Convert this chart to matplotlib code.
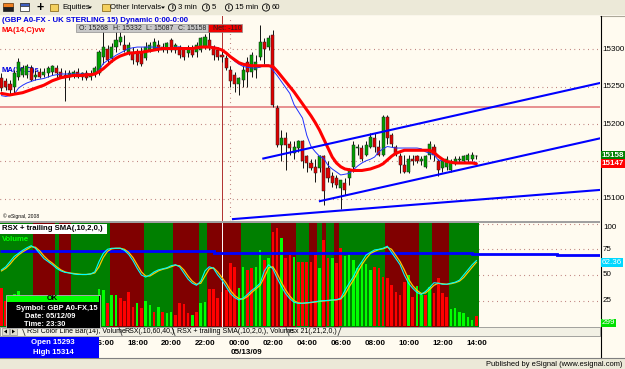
import numpy as np
import pandas as pd
import matplotlib
matplotlib.use("Agg")
import matplotlib.pyplot as plt
from matplotlib.patches import Rectangle, Circle, Polygon
from matplotlib.transforms import blended_transform_factory as blend

plt.rcParams["font.family"] = ["Liberation Sans", "DejaVu Sans"]

# ===============================================================
# DATA  -- GBP A0-FX, 15 min bars, 05/12/09 10:30 .. 05/13/09 14:30
# ===============================================================
opens = [15261, 15257, 15254, 15250, 15263, 15266, 15266, 15275, 15263, 15270,
         15266, 15268, 15270, 15275, 15270, 15266, 15263, 15266, 15270, 15263,
         15268, 15263, 15266, 15268, 15290, 15301, 15288, 15303, 15310, 15306,
         15297, 15297, 15297, 15297, 15288, 15299, 15301, 15306, 15303, 15299,
         15312, 15299, 15303, 15301, 15295, 15301, 15297, 15299, 15303, 15312,
         15303, 15299, 15292, 15288, 15272, 15266, 15254, 15259, 15283, 15270,
         15272, 15290, 15310, 15303, 15319, 15221, 15172, 15181, 15174, 15161,
         15168, 15177, 15157, 15148, 15143, 15141, 15157, 15141, 15130, 15128,
         15114, 15121, 15128, 15143, 15168, 15168, 15159, 15170, 15181, 15170,
         15159, 15210, 15185, 15170, 15157, 15145, 15136, 15154, 15157, 15150,
         15143, 15159, 15170, 15150, 15141, 15143, 15139, 15148, 15152, 15150,
         15152, 15154, 15157]
highs = [15268, 15261, 15259, 15272, 15288, 15279, 15281, 15279, 15272, 15275,
         15275, 15277, 15279, 15279, 15275, 15272, 15272, 15272, 15275, 15270,
         15272, 15272, 15277, 15299, 15326, 15306, 15308, 15326, 15326, 15319,
         15310, 15303, 15301, 15303, 15310, 15310, 15315, 15312, 15308, 15310,
         15315, 15308, 15306, 15303, 15306, 15306, 15310, 15317, 15321, 15324,
         15306, 15303, 15299, 15292, 15277, 15270, 15263, 15279, 15290, 15297,
         15292, 15332, 15315, 15319, 15326, 15226, 15192, 15190, 15177, 15177,
         15179, 15179, 15159, 15154, 15154, 15159, 15159, 15150, 15136, 15132,
         15125, 15128, 15141, 15177, 15174, 15172, 15177, 15188, 15188, 15179,
         15212, 15212, 15188, 15172, 15161, 15159, 15159, 15159, 15159, 15157,
         15159, 15177, 15174, 15154, 15154, 15157, 15154, 15157, 15157, 15159,
         15161, 15163, 15159]
lows = [15244, 15246, 15239, 15241, 15259, 15263, 15261, 15257, 15259, 15261,
        15263, 15263, 15266, 15261, 15261, 15231, 15259, 15261, 15261, 15259,
        15259, 15259, 15263, 15266, 15281, 15281, 15283, 15297, 15306, 15297,
        15292, 15281, 15279, 15277, 15286, 15297, 15299, 15297, 15297, 15295,
        15297, 15295, 15288, 15286, 15290, 15290, 15290, 15297, 15301, 15299,
        15286, 15286, 15283, 15272, 15250, 15243, 15239, 15250, 15250, 15263,
        15261, 15286, 15281, 15299, 15223, 15170, 15150, 15139, 15159, 15154,
        15163, 15141, 15136, 15139, 15123, 15136, 15092, 15123, 15116, 15114,
        15087, 15105, 15119, 15136, 15159, 15150, 15157, 15168, 15163, 15157,
        15157, 15174, 15170, 15157, 15134, 15134, 15134, 15145, 15148, 15145,
        15141, 15154, 15150, 15130, 15136, 15139, 15136, 15145, 15148, 15148,
        15148, 15150, 15154]
closes = [15248, 15250, 15246, 15268, 15283, 15275, 15277, 15259, 15266, 15263,
          15270, 15275, 15277, 15268, 15263, 15263, 15268, 15270, 15263, 15268,
          15261, 15266, 15275, 15297, 15303, 15286, 15303, 15312, 15317, 15299,
          15306, 15286, 15283, 15281, 15303, 15306, 15310, 15301, 15299, 15308,
          15299, 15306, 15292, 15290, 15301, 15292, 15306, 15315, 15317, 15303,
          15292, 15290, 15290, 15275, 15257, 15254, 15261, 15272, 15270, 15292,
          15283, 15310, 15301, 15315, 15226, 15172, 15181, 15172, 15168, 15170,
          15177, 15150, 15148, 15141, 15134, 15157, 15110, 15128, 15121, 15119,
          15125, 15112, 15139, 15172, 15170, 15154, 15172, 15183, 15170, 15159,
          15210, 15181, 15174, 15159, 15145, 15136, 15154, 15150, 15150, 15154,
          15157, 15174, 15159, 15139, 15150, 15154, 15150, 15154, 15154, 15157,
          15159, 15159, 15158]

# MA(14,C)vw (thick red) and the thin blue MA
ma_vw = [15241, 15240, 15239, 15240, 15241, 15242, 15244, 15246, 15248, 15250,
         15252, 15255, 15258, 15260, 15262, 15263, 15264, 15265, 15265, 15265,
         15266, 15266, 15267, 15270, 15274, 15279, 15284, 15288, 15291, 15293,
         15295, 15295, 15296, 15296, 15297, 15298, 15299, 15300, 15301, 15301,
         15301, 15301, 15301, 15301, 15301, 15301, 15302, 15303, 15303, 15303,
         15302, 15301, 15299, 15295, 15290, 15286, 15282, 15280, 15279, 15278,
         15278, 15278, 15278, 15278, 15277, 15271, 15264, 15257, 15250, 15243,
         15235, 15227, 15219, 15211, 15202, 15192, 15180, 15168, 15156, 15148,
         15143, 15140, 15139, 15138, 15138, 15138, 15139, 15140, 15142, 15144,
         15147, 15152, 15157, 15161, 15163, 15165, 15165, 15165, 15165, 15165,
         15165, 15165, 15162, 15157, 15153, 15150, 15149, 15148, 15148, 15148,
         15148, 15148, 15147]
ma_s = [15238, 15237, 15238, 15240, 15248, 15252, 15255, 15257, 15259, 15260,
        15261, 15263, 15265, 15266, 15267, 15267, 15267, 15267, 15267, 15267,
        15267, 15267, 15268, 15272, 15281, 15285, 15288, 15292, 15295, 15298,
        15301, 15302, 15303, 15303, 15303, 15303, 15303, 15302, 15301, 15302,
        15302, 15303, 15303, 15302, 15301, 15301, 15301, 15302, 15303, 15304,
        15303, 15302, 15299, 15295, 15290, 15284, 15280, 15277, 15276, 15275,
        15275, 15276, 15279, 15279, 15272, 15265, 15257, 15249, 15241, 15226,
        15217, 15208, 15185, 15170, 15163, 15157, 15154, 15145, 15140, 15136,
        15132, 15133, 15134, 15139, 15144, 15148, 15151, 15153, 15156, 15163,
        15167, 15170, 15169, 15168, 15168, 15168, 15168, 15168, 15168, 15167,
        15163, 15161, 15159, 15152, 15151, 15150, 15149, 15149, 15149, 15149,
        15149, 15149, 15149]

volumes = [1064, 700, 650, 900, 988, 600, 750, 820, 500, 450,
           520, 480, 610, 560, 400, 850, 380, 420, 300, 350,
           380, 450, 700, 1045, 1017, 643, 878, 878, 785, 710,
           951, 550, 643, 505, 710, 598, 412, 550, 412, 366,
           412, 319, 643, 617, 366, 319, 412, 643, 673, 1045,
           1045, 803, 951, 1017, 1763, 1670, 1083, 1670, 1577, 1624,
           1670, 2136, 1856, 1903, 2647, 2742, 2462, 1903, 1996, 1950,
           1810, 1790, 1790, 1810, 1996, 1643, 2416, 1903, 1903, 1763,
           2183, 1978, 2015, 1856, 1624, 1810, 1735, 1577, 1670, 1643,
           1390, 1344, 1157, 970, 878, 1251, 1437, 831, 1137, 878,
           878, 1110, 924, 1344, 924, 831, 485, 505, 412, 366,
           272, 179, 299]
volume_colors = ("rrrggggrgrgggrrrggrgrgggg"
                 "rggrrrrgrggrgrggrrrrgrggr"
                 "rrrrrrggrrggrgrrgrrgrrrrr"
                 "grrgrrgggggggrrrrrrrrgrgg"
                 "rgrrrrggggggr")

rsx = [55, 58, 63, 68, 71, 74, 76.5, 78.5, 76, 71,
       66, 63, 60, 56.5, 54, 52.5, 52, 51, 50.5, 50.5,
       50.5, 51, 53, 63, 71, 75, 76, 76, 76, 74,
       70, 64, 56.5, 50, 48, 50, 53, 55, 56, 57,
       59, 60, 58, 52, 46, 42, 40, 44, 54, 58,
       56.5, 50, 45, 38.6, 32, 28, 25.7, 27.5, 31, 35,
       38, 42, 54, 60, 56, 47, 39, 32, 27, 23.5,
       22.4, 22.5, 23, 23.4, 24, 24.7, 25, 25.3, 25.7, 26,
       27.3, 35, 42, 48.4, 57, 63, 69.5, 72, 74.4, 75,
       76, 78, 72, 66, 60, 50, 42, 37, 33, 31,
       34, 38, 42.5, 42, 41, 41, 42, 43, 45, 50,
       55, 60, 64]
rsx_sma = [54, 56.5, 60.5, 65.5, 69.5, 72.5, 75, 77.5, 77, 73.5,
           68.5, 64.5, 61.5, 58, 55, 53, 52, 51.5, 51, 50.5,
           50.5, 51, 52, 58, 67, 73, 75.5, 76, 76, 75,
           72, 67, 60, 53, 49, 49, 51.5, 54, 55.5, 56.5,
           58, 59.5, 59, 55, 49, 44, 41, 42, 49, 56,
           57, 53, 47.5, 42, 35, 30, 27, 26.5, 29, 33,
           36.5, 40, 48, 57, 58, 51.5, 43, 35.5, 29.5, 25,
           23, 22.5, 22.8, 23.2, 23.7, 24.3, 24.8, 25.1, 25.5, 25.8,
           26.6, 31, 38.5, 45, 52.5, 60, 66, 71, 73, 74.7,
           75.5, 77, 75, 69, 63, 55, 46, 39.5, 35, 32,
           32.5, 36, 40, 42, 41.5, 41, 41.5, 42.5, 44, 47.5,
           52.5, 57.5, 62.36]
rsx_bg = ("gggggggg" "rrrrr" "g" "rrr" "ggggggggg" "rrrrrrrr" "ggggggg"
          "rrrrrr" "gg" "rrrrrrrr" "ggggggg" "rrrrrr" "ggg" "rr" "g" "r"
          "gg" "r" "ggggggggggg" "rrrrrrrr" "ggg" "rrrr" "ggggggg")

# thick blue level in the RSX pane (step line)
level_edges = [-0.4, 50, 111, 131, 141.2]
level_values = [73.6, 71.4, 70.6, 69.6]

# hand-drawn trendlines, (bar, price) end points
trend_x0 = [61.75, 75.1, 54.6]
trend_y0 = [15154, 15097, 15073]
trend_x1 = [141.2, 141.2, 141.2]
trend_y1 = [15255, 15181, 15112]
hline_price = 15223
cursor_bar = 52

price_ticks = [15100, 15200, 15250, 15300]
grid_prices = [15100, 15150, 15200, 15250, 15300]
rsx_ticks = [25, 50, 75, 100]

n = len(closes)
assert all(len(a) == n for a in (opens, highs, lows, ma_vw, ma_s, volumes,
                                  volume_colors, rsx, rsx_sma, rsx_bg))
bar_times = pd.date_range("2009-05-12 10:30", periods=n, freq="15min")

# ===============================================================
# LAYOUT (pixel based, 625 x 369)
# ===============================================================
W, H = 625, 369
CREAM = "#FFFBF0"
XP = "#ECE9D8"
C_UP, C_DN = "#00A000", "#E00000"
BG_G, BG_R = "#007F00", "#800000"
V_G, V_R = "#00FF00", "#FF0000"
GRID = "#A04848"

fig = plt.figure(figsize=(W / 100, H / 100), dpi=100)


def px_axes(x0, y0, w, h):
    return fig.add_axes([x0 / W, 1 - (y0 + h) / H, w / W, h / H])


def clean(ax):
    ax.set_xticks([])
    ax.set_yticks([])
    for s in ax.spines.values():
        s.set_visible(False)


bg = px_axes(0, 0, W, H)
bg.set_xlim(0, W)
bg.set_ylim(H, 0)
bg.axis("off")
bg.add_patch(Rectangle((0, 0), W, H, fc=CREAM, ec="none"))

main = px_axes(0, 16, 600, 205)
ind = px_axes(0, 223, 600, 104)
vol_ax = ind.twinx()
ov = px_axes(0, 0, W, H)
ov.set_xlim(0, W)
ov.set_ylim(H, 0)
ov.axis("off")
ov.set_zorder(10)
ov.patch.set_alpha(0)

BAR_PX, FIRST_PX = 4.24, 1.5
xlim = (-FIRST_PX / BAR_PX, (600 - FIRST_PX) / BAR_PX)
for ax in (main, ind, vol_ax):
    clean(ax)
    ax.set_xlim(*xlim)
main.set_facecolor(CREAM)
ind.set_facecolor(CREAM)
main.set_ylim(15070.45, 15344.5)
ind.set_ylim(-0.58, 100.58)
vol_ax.set_ylim(-0.58 * 28.75, 100.58 * 28.75)

x = np.arange(n)
o, h, l, c = map(np.array, (opens, highs, lows, closes))

# --- price pane ---
for p in grid_prices:
    main.axhline(p, color=GRID, lw=0.8, ls=(0, (0.6, 3.5)), zorder=1)
main.axvline(x[bar_times.normalize() != bar_times.normalize()[0]][0],
             color=GRID, lw=0.8, ls=(0, (0.6, 3.5)), zorder=1)
main.axhline(hline_price, color="#E89090", lw=1.4, zorder=2)
main.axvline(cursor_bar, color="#B03030", lw=0.7, zorder=2)

main.vlines(x, l, h, color="#101010", lw=0.7, zorder=4)
body = np.maximum(np.abs(c - o), 0.8)
main.bar(x, body, bottom=np.minimum(o, c), width=0.72,
         color=np.where(c >= o, C_UP, C_DN), edgecolor="#202020",
         linewidth=0.35, zorder=5)
main.plot(x, ma_s, color="#2030FF", lw=0.7, zorder=6)
main.plot(x, ma_vw, color="#FF0000", lw=2.2, zorder=7, solid_capstyle="round")
for xa, ya, xb, yb in zip(trend_x0, trend_y0, trend_x1, trend_y1):
    main.plot([xa, xb], [ya, yb], color="#0000FF", lw=1.5, zorder=8)

# --- RSX / volume pane ---
ind.bar(x, 101.2, bottom=-0.6, width=1.0,
        color=[BG_G if k == "g" else BG_R for k in rsx_bg], zorder=2)
for v in rsx_ticks:
    ind.axhline(v, color=GRID, lw=0.8, ls=(0, (0.6, 3.5)), zorder=1)
vol_ax.bar(x, volumes, width=0.62,
           color=[V_G if k == "g" else V_R for k in volume_colors], zorder=2)
vol_ax.axvline(cursor_bar, color="#FFFFFF", lw=0.7, zorder=3)
vol_ax.stairs(level_values, level_edges, color="#0000FF", lw=2.0,
              baseline=None, zorder=4, transform=ind.transData)
vol_ax.plot(x, rsx_sma, color="#FFC800", lw=0.9, zorder=5,
            transform=ind.transData)
vol_ax.plot(x, rsx, color="#00FFFF", lw=0.8, zorder=6,
            transform=ind.transData)

# ===============================================================
# CHROME: toolbar, tabs, time axis, status bar
# ===============================================================
bg.add_patch(Rectangle((0, 0), W, 15, fc=XP, ec="none"))
bg.plot([0, W], [15.5, 15.5], color="#ACA899", lw=0.8)
# toolbar icons
bg.add_patch(Rectangle((3, 3), 10, 4, fc="#F08020", ec="#603000", lw=0.5))
bg.add_patch(Rectangle((3, 7), 10, 4, fc="#202020", ec="#202020", lw=0.5))
bg.add_patch(Rectangle((20, 3), 9, 8, fc="#FFFFFF", ec="#404040", lw=0.6))
bg.add_patch(Rectangle((20, 3), 9, 2.5, fc="#4060C0", ec="#404040", lw=0.6))
bg.text(40, 7.5, "+", fontsize=9, fontweight="bold", ha="center", va="center")
TB = dict(fontsize=5.6, va="center", color="#000000")
for fx in (50, 102):
    bg.add_patch(Rectangle((fx, 4), 8, 7, fc="#F4D060", ec="#907020", lw=0.6))
bg.text(62, 7.5, "Equities", **TB)
bg.text(110, 7.5, "Other Intervals", **TB)
for tx in (88, 161):
    bg.add_patch(Polygon([[tx, 6.5], [tx + 4, 6.5], [tx + 2, 8.8]], fc="#000000"))
for cx, lab in ((172, "3 min"), (206, "5"), (229, "15 min"), (266, "60")):
    bg.add_patch(Circle((cx, 7.5), 3.6, fc="none", ec="#000000", lw=0.6))
    bg.text(cx, 7.6, "I", fontsize=4.5, fontweight="bold", ha="center", va="center")
    bg.text(cx + 6, 7.5, lab, **TB)

# separators / frame
bg.add_patch(Rectangle((0, 221), 600, 2, fc="#A0A0A0", ec="none"))
bg.plot([600.5, 600.5], [16, 358], color="#000000", lw=0.8)

# tab strip
bg.add_patch(Rectangle((0, 327), 600, 9, fc="#F2F0E4", ec="#808080", lw=0.5))
for bx in (2, 10):
    bg.add_patch(Rectangle((bx, 328), 7, 7, fc="#E0DED0", ec="#808080", lw=0.4))
bg.add_patch(Polygon([[7, 329.5], [7, 333.5], [4, 331.5]], fc="#000000"))
bg.add_patch(Polygon([[12, 329.5], [12, 333.5], [15, 331.5]], fc="#000000"))
for sx in (22, 119, 172, 286):
    bg.plot([sx, sx + 3], [327.5, 335.5], color="#404040", lw=0.6)
bg.plot([338, 341], [335.5, 327.5], color="#404040", lw=0.6)
TABS = [(27, "RSI Color Line Bar(14), Volume"), (124, "RSX(,10,60,40,)"),
        (177, "RSX + trailing SMA(,10,2,0,), Volume"), (289, "rsx 21(,21,2,0,)")]
for tx, lab in TABS:
    bg.text(tx, 331.8, lab, fontsize=5.0, va="center", color="#000000")

# time axis (labels sitting fully under the open/high box are not drawn)
tick_idx = [i for i, t in enumerate(bar_times) if t.minute == 0 and t.hour % 2 == 0]
tt = blend(main.transData, bg.transData)
for i in tick_idx:
    if FIRST_PX + BAR_PX * (x[i] + 2.1) + 12 < 99:
        continue
    bg.text(x[i] + 2.1, 343.5, bar_times[i].strftime("%H:%M"), transform=tt,
            fontsize=5.8, fontweight="bold", ha="center", va="center")
new_day = [i for i in tick_idx if bar_times[i].hour == 0][0]
bg.text(x[new_day] + 3.7, 353, bar_times[new_day].strftime("%m/%d/%y"),
        transform=tt, fontsize=5.8, fontweight="bold", ha="center", va="center")

# status bar
bg.add_patch(Rectangle((0, 358), W, 11, fc=XP, ec="none"))
bg.plot([0, W], [358.3, 358.3], color="#808080", lw=0.8)
bg.text(622, 364, "Published by eSignal (www.esignal.com)", fontsize=5.4,
        ha="right", va="center", color="#000000")

# ===============================================================
# TEXT OVERLAYS
# ===============================================================
main.text(2, 20.5, "(GBP A0-FX - UK STERLING 15) Dynamic 0:00-0:00",
          transform=ov.transData, fontsize=5.6, fontweight="bold",
          color="#0000E0", va="center", zorder=9)
main.text(2, 30.5, "MA(14,C)vw", transform=ov.transData, fontsize=5.6,
          fontweight="bold", color="#FF0000", va="center", zorder=9)
main.text(2, 70, "MA(10,C)s", transform=ov.transData, fontsize=5.6,
          fontweight="bold", color="#0000E0", va="center", zorder=3)
main.text(3, 216.5, "\u00a9 eSignal, 2008", transform=ov.transData,
          fontsize=3.6, color="#000000", va="center", zorder=9)

# O/H/L/C box
ov.add_patch(Rectangle((76, 24), 132, 8, fc="#C8C8C8", ec="#909090", lw=0.5))
ov.add_patch(Rectangle((208, 24), 34, 8, fc="#F00000", ec="#909090", lw=0.5))
for tx, lab in ((79, f"O: {opens[0] + 7}"), (113, f"H: {max(highs)}"),
                (146, f"L: {min(lows)}"), (178, f"C: {closes[-1]}")):
    ov.text(tx, 28.2, lab, fontsize=5.0, color="#202020", va="center")
ov.text(213, 28.2, f"Net: {closes[-1] - (opens[0] + 7)}", fontsize=5.0,
        color="#202020", va="center")

# right price scale
ty_main = blend(ov.transData, main.transData)
for p in price_ticks:
    ov.text(602, p, f"{p}", transform=ty_main, fontsize=5.8, va="center")
BOX = dict(boxstyle="square,pad=0.12", ec="none")
ov.text(601.5, closes[-1], f"{closes[-1]}", transform=ty_main, fontsize=5.8,
        va="center", color="white", fontweight="bold", bbox=dict(fc="#008000", **BOX))
ov.text(601.5, ma_vw[-1], f"{ma_vw[-1]}", transform=ty_main, fontsize=5.8,
        va="center", color="white", fontweight="bold", bbox=dict(fc="#FF0000", **BOX))

ty_ind = blend(ov.transData, ind.transData)
for v in rsx_ticks:
    ov.text(603, v, f"{v}", transform=ty_ind, fontsize=5.8,
            va="top" if v == 100 else "center")
ov.text(601.5, rsx_sma[-1], f"{rsx_sma[-1]:.2f}", transform=ty_ind, fontsize=5.8,
        va="center", color="white", bbox=dict(fc="#00D8FF", **BOX))
ov.text(601.5, 323, f"{volumes[-1]}", fontsize=5.8, va="center", color="white",
        bbox=dict(fc="#00E000", **BOX))

# pane titles
ov.add_patch(Rectangle((0, 224), 107, 10, fc="#FFFFFF", ec="none"))
ov.text(2, 229, "RSX + trailing SMA(,10,2,0,)", fontsize=5.6, fontweight="bold",
        va="center", color="#000000")
ov.text(2, 239.5, "Volume", fontsize=5.6, fontweight="bold", va="center",
        color="#00FF00")

# cursor info box
ov.add_patch(Rectangle((5.5, 294.5), 94, 33, fc="#000000", ec="#C0C0C0", lw=0.6))
ov.add_patch(Rectangle((6.5, 295.5), 92, 6.5, fc="#00FF00", ec="none"))
ov.text(52.5, 298.8, "OK", fontsize=5.4, fontweight="bold", ha="center", va="center")
ov.text(57, 308.5, "Symbol: GBP A0-FX,15", fontsize=5.4, fontweight="bold",
        ha="center", va="center", color="white")
ov.text(50, 316.8, "Date: " + bar_times[cursor_bar].strftime("%m/%d/%y"),
        fontsize=5.4, fontweight="bold", ha="center", va="center", color="white")
ov.text(45, 324.8, "Time: " + bar_times[cursor_bar].strftime("%H:%M"),
        fontsize=5.4, fontweight="bold", ha="center", va="center", color="white")

# session open / high box
ov.add_patch(Rectangle((0, 337), 99, 20.5, fc="#0000FF", ec="none"))
ov.text(53, 342.3, "Open 15293", fontsize=5.6, fontweight="bold", ha="center",
        va="center", color="white")
ov.text(53, 352, "High 15314", fontsize=5.6, fontweight="bold", ha="center",
        va="center", color="white")

fig.savefig("out.png", dpi=100)
